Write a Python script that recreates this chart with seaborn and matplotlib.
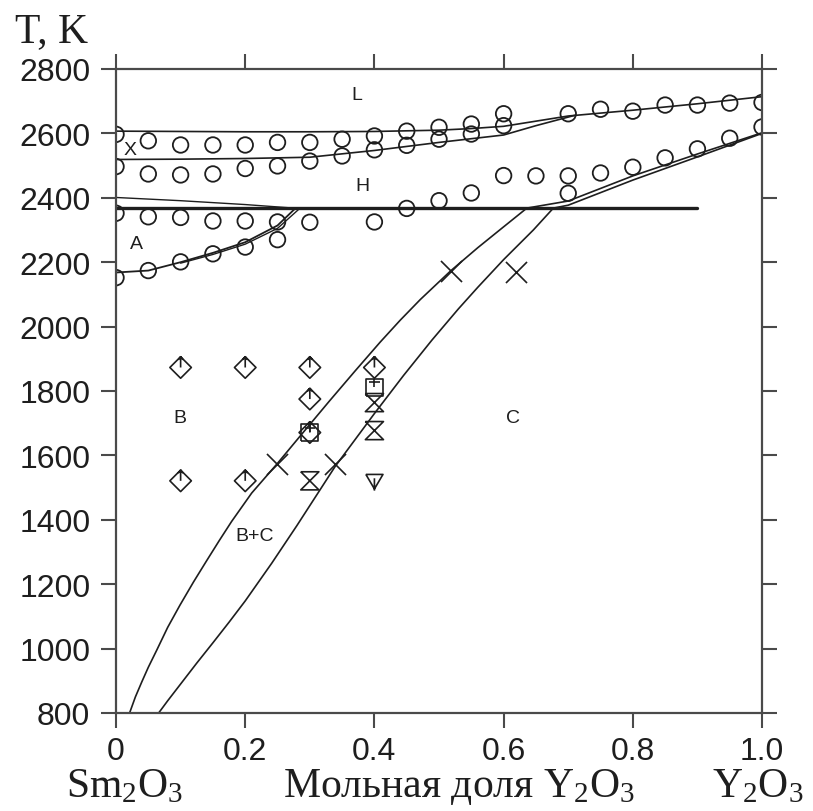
import numpy as np
import pandas as pd
import matplotlib
matplotlib.use("Agg")
import matplotlib.pyplot as plt
from matplotlib.path import Path
import seaborn as sns

# ---------------- data ----------------
# experimental points (circles)
circ_top_x = [0, .05, .1, .15, .2, .25, .3, .35, .4, .45, .5, .55, .6, .7, .75, .8, .85, .9, .95, 1.0]
circ_top_T = [2597, 2577, 2564, 2564, 2564, 2572, 2572, 2582, 2592, 2607, 2619, 2629, 2661, 2661, 2675, 2669, 2688, 2688, 2694, 2696]

circ_mid_x = [0, .05, .1, .15, .2, .25, .3, .35, .4, .45, .5, .55, .6]
circ_mid_T = [2497, 2474, 2471, 2474, 2491, 2499, 2514, 2530, 2549, 2563, 2582, 2598, 2624]

circ_low_x = [0, .05, .1, .15, .2, .25, .3, .4, .45, .5, .55, .6, .65, .7, .75, .8, .85, .9, .95, 1.0, .25, .7]
circ_low_T = [2352, 2341, 2339, 2328, 2328, 2325, 2324, 2325, 2367, 2391, 2415, 2469, 2468, 2468, 2477, 2495, 2524, 2552, 2585, 2620, 2270, 2414]

circ_A_x = [0, .05, .1, .15, .2]
circ_A_T = [2152, 2174, 2201, 2226, 2247]

# other symbols
diam_x = [0.1, 0.2, 0.3, 0.4, 0.3, 0.1, 0.2, 0.3]
diam_T = [1873, 1873, 1873, 1873, 1775, 1521, 1521, 1671]
sq_x = [0.4, 0.3]
sq_T = [1812, 1671]
hg_x = [0.4, 0.4, 0.3]
hg_T = [1764, 1677, 1521]
tri_x = [0.4]
tri_T = [1521]
cross_x = [0.249, 0.339, 0.518, 0.619]
cross_T = [1573, 1573, 2173, 2171]

# phase boundary lines
liq_x = [0, 0.1, 0.2, 0.3, 0.4, 0.5, 0.55, 0.6, 0.65, 0.7, 0.8, 0.9, 1.0]
liq_T = [2607, 2606, 2605, 2605, 2606, 2610, 2615, 2622, 2638, 2654, 2672, 2692, 2714]
xsol_x = [0, 0.1, 0.2, 0.3, 0.4, 0.5, 0.6, 0.65, 0.71]
xsol_T = [2519, 2520, 2522, 2526, 2547, 2572, 2595, 2624, 2656]
hthin_x = [0, 0.1, 0.2, 0.275]
hthin_T = [2401, 2391, 2379, 2368]
eut_x = [0, 0.9]
eut_T = [2368, 2368]
a1_x = [0, 0.05, 0.1, 0.15, 0.2, 0.25, 0.278]
a1_T = [2168, 2174, 2200, 2229, 2262, 2314, 2368]
a2_x = [0.1, 0.15, 0.2, 0.25, 0.285]
a2_T = [2197, 2224, 2256, 2305, 2368]
c1_x = [0.021, 0.03, 0.04, 0.05, 0.063, 0.08, 0.099, 0.12, 0.14, 0.16, 0.179, 0.21, 0.249, 0.29, 0.33, 0.37,
        0.409, 0.44, 0.471, 0.518, 0.56, 0.597, 0.636, 0.7, 0.8, 0.9, 1.0]
c1_T = [800, 850, 897, 942, 995, 1066, 1135, 1207, 1272, 1336, 1395, 1483, 1573, 1672, 1768, 1862,
        1952, 2020, 2084, 2173, 2245, 2305, 2368, 2390, 2468, 2536, 2602]
c2_x = [0.066, 0.08, 0.1, 0.125, 0.15, 0.175, 0.2, 0.241, 0.28, 0.339, 0.4, 0.445, 0.489, 0.53, 0.56, 0.6,
        0.646, 0.677, 0.7, 0.8, 0.9, 1.0]
c2_T = [800, 838, 890, 955, 1018, 1082, 1148, 1265, 1382, 1565, 1730, 1848, 1958, 2055, 2122, 2208,
        2300, 2368, 2377, 2455, 2527, 2600]

x_ticks = [0, 0.2, 0.4, 0.6, 0.8, 1.0]
x_ticklabels = ["0", "0.2", "0.4", "0.6", "0.8", "1.0"]
y_ticks = [800, 1000, 1200, 1400, 1600, 1800, 2000, 2200, 2400, 2600, 2800]

region_labels = ["L", "H", "A", "B", "C", "B+C", "X"]
region_x = [0.373, 0.381, 0.032, 0.099, 0.615, 0.214, 0.022]
region_T = [2722, 2437, 2257, 1719, 1719, 1350, 2551]

# ---------------- style ----------------
sns.set_theme(style="ticks")
plt.rcParams["font.family"] = ["Liberation Sans", "DejaVu Sans"]
plt.rcParams["mathtext.fontset"] = "custom"
plt.rcParams["mathtext.rm"] = "Liberation Serif"
plt.rcParams["mathtext.it"] = "Liberation Serif:italic"

INK = "#1e1e1e"
SPINE = "#4a4a4a"

fig = plt.figure(figsize=(8.13, 8.12), dpi=100)
ax = fig.add_axes([0.1427, 0.1207, 0.7946, 0.7931])

# ---------------- lines ----------------
def line(xs, ts, lw=1.2):
    sns.lineplot(x=xs, y=ts, ax=ax, sort=False, estimator=None, color=INK, linewidth=lw)

line(liq_x, liq_T)
line(xsol_x, xsol_T)
line(hthin_x, hthin_T, 1.0)
line(eut_x, eut_T, 2.4)
line(a1_x, a1_T, 1.3)
line(a2_x, a2_T, 1.0)
line(c1_x, c1_T)
line(c2_x, c2_T)

# ---------------- markers ----------------
M, L = Path.MOVETO, Path.LINETO
diamond_up = Path([(0, 1), (1, 0), (0, -1), (-1, 0), (0, 1), (0, 0), (0, 1), (-0.22, 0.72), (0, 1), (0.22, 0.72)],
                  [M, L, L, L, L, M, L, L, M, L])
square_up = Path([(-1, -1), (1, -1), (1, 1), (-1, 1), (-1, -1), (0, 0.05), (0, 1), (-0.6, 0.55), (0.6, 0.55)],
                 [M, L, L, L, L, M, L, M, L])
hourglass = Path([(-1, 1), (1, 1), (-1, -1), (1, -1), (-1, 1)], [M, L, L, L, L])
tri_down = Path([(-1, 0.75), (1, 0.75), (0, -0.95), (-1, 0.75), (0, 0.3), (0, -1.15)],
                [M, L, L, L, M, L])

circle_kw = dict(marker="o", s=125, facecolors="none", edgecolor=INK, linewidth=1.3, ax=ax, legend=False)
for xs, ts in [(circ_top_x, circ_top_T), (circ_mid_x, circ_mid_T), (circ_low_x, circ_low_T), (circ_A_x, circ_A_T)]:
    sns.scatterplot(x=xs, y=ts, **circle_kw)

sym_kw = dict(facecolors="none", edgecolor=INK, linewidth=1.2, ax=ax, legend=False)
sns.scatterplot(x=diam_x, y=diam_T, marker=diamond_up, s=240, **sym_kw)
sns.scatterplot(x=sq_x, y=sq_T, marker=square_up, s=150, **sym_kw)
sns.scatterplot(x=hg_x, y=hg_T, marker=hourglass, s=170, **sym_kw)
sns.scatterplot(x=tri_x, y=tri_T, marker=tri_down, s=200, **sym_kw)
sns.scatterplot(x=cross_x, y=cross_T, marker="x", s=230, color=INK, linewidth=1.2, ax=ax, legend=False)

# ---------------- region labels ----------------
for lab, xx, tt in zip(region_labels, region_x, region_T):
    ax.text(xx, tt, lab, ha="center", va="center", fontsize=14, color=INK)

# ---------------- axes ----------------
ax.set_xlim(0, 1.0)
ax.set_ylim(800, 2800)
ax.set_xticks(x_ticks)
ax.set_xticklabels(x_ticklabels)
ax.set_yticks(y_ticks)
ax.set_xlabel("")
ax.set_ylabel("")
ax.tick_params(axis="both", which="major", direction="out", length=10.5, width=1.5,
               color=SPINE, labelsize=23, labelcolor=INK,
               top=True, right=True, labeltop=False, labelright=False)
ax.tick_params(axis="y", pad=8)
ax.tick_params(axis="x", pad=6)
for s in ax.spines.values():
    s.set_visible(True)
    s.set_color(SPINE)
    s.set_linewidth(1.6)
ax.set_facecolor("white")
fig.patch.set_facecolor("white")

serif = ["Liberation Serif", "DejaVu Serif"]
fig.text(0.018, 0.948, "T, K", family=serif, fontsize=30, color=INK, va="baseline", ha="left")
fig.text(0.153, 0.0185, r"$\mathrm{Sm_2O_3}$", family=serif, fontsize=30, color=INK, va="baseline", ha="center")
fig.text(0.565, 0.0185, r"Мольная доля $\mathrm{Y_2O_3}$", family=serif, fontsize=30, color=INK, va="baseline", ha="center")
fig.text(0.988, 0.0185, r"$\mathrm{Y_2O_3}$", family=serif, fontsize=30, color=INK, va="baseline", ha="right")

fig.savefig("out.png", dpi=100)
